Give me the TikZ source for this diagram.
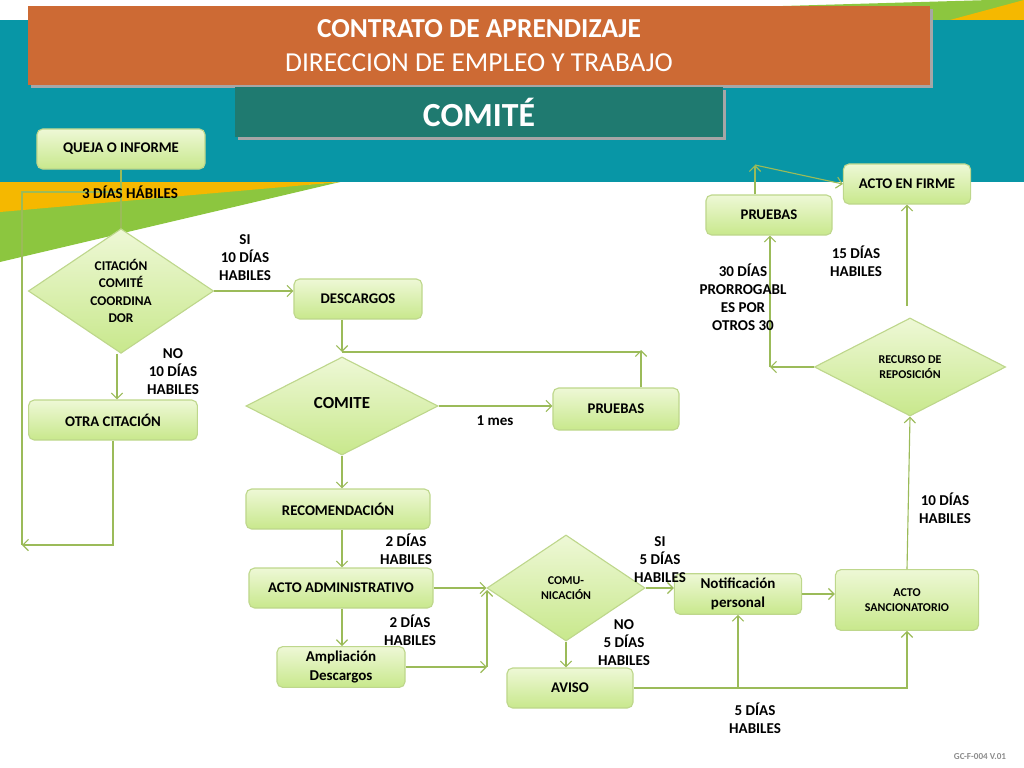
\documentclass[tikz,border=0pt]{standalone}
\usepackage{fontspec}
\setmainfont{Carlito}
\usetikzlibrary{shapes.geometric, arrows.meta}
\definecolor{teal1}{RGB}{8,150,166}
\definecolor{teal2}{RGB}{31,122,112}
\definecolor{orng}{RGB}{205,106,52}
\definecolor{yell}{RGB}{245,184,0}
\definecolor{grn}{RGB}{140,198,63}
\definecolor{boxtop}{RGB}{238,248,214}
\definecolor{boxbot}{RGB}{200,232,140}
\definecolor{edge}{RGB}{190,215,140}
\definecolor{wire}{RGB}{155,187,89}
\tikzset{
block/.style={
  draw=edge, thick,
  rectangle, rounded corners=4pt,
  top color=boxtop, bottom color=boxbot,
  minimum height=1cm,
  minimum width=3.2cm, align=center,
  font=\fontsize{10.5}{12}\selectfont\bfseries
  },
decision/.style={
  draw=edge, thick,
  diamond, inner sep=0pt,
  top color=boxtop, bottom color=boxbot,
  align=center,
  font=\fontsize{9.5}{12.3}\selectfont\bfseries
  },
tag/.style={align=center, font=\fontsize{10.7}{12.8}\selectfont\bfseries},
line/.style={->, >={Straight Barb[length=4pt,width=8pt]}, draw=wire, thick},
wire/.style={draw=wire, thick}
}
\begin{document}
\begin{tikzpicture}[x=0.025cm, y=-0.025cm]
\useasboundingbox (0,0) rectangle (1024,768);

% background
\fill[grn] (300,20) -- (990,0) -- (1024,0) -- (1024,20) -- cycle;
\fill[yell] (950,20) -- (1024,0) -- (1024,20) -- cycle;
\fill[teal1] (0,20) rectangle (1024,182);
\fill[grn] (0,208) -- (340,182) -- (0,262) -- cycle;
\fill[yell] (0,182) -- (340,182) -- (0,212) -- cycle;
\fill[black!35] (31,9) rectangle (933,88);
\fill[orng] (28,6) rectangle (930,85);
\fill[black!35] (238,90) rectangle (726,140);
\fill[teal2] (235,87) rectangle (723,137);
\node[white, font=\fontsize{19.5}{22}\selectfont\bfseries] (title) at (479,29) {CONTRATO DE APRENDIZAJE};
\node[white, font=\fontsize{19.5}{22}\selectfont] (subtitle) at (479,63) {DIRECCION DE EMPLEO Y TRABAJO};
\node[white, font=\fontsize{24}{26}\selectfont\bfseries] (comittitle) at (479,112) {COMITÉ};

% nodes
\node[block, minimum width=4.2cm]	(queja)		at (121,149)	{QUEJA O INFORME};
\node[decision, minimum width=4.63cm, minimum height=2.95cm]	(citacion)	at (121,291)	{CITACIÓN\\COMITÉ\\COORDINA\\DOR};
\node[block]	(descargos)	at (358,299)	{DESCARGOS};
\node[decision, minimum width=4.8cm, minimum height=2.45cm, font=\fontsize{12}{14}\selectfont\bfseries]	(comite)	at (342,406)	{\raisebox{4pt}{COMITE}};
\node[block, minimum width=3.15cm, minimum height=1.05cm]	(pruebasa)	at (616,409)	{PRUEBAS};
\node[block, minimum width=4.22cm]	(otra)		at (113,420)	{OTRA CITACIÓN};
\node[block, minimum width=4.6cm]	(recomend)	at (338,509)	{RECOMENDACIÓN};
\node[block, minimum width=4.6cm]	(actoadm)	at (341,588)	{ACTO ADMINISTRATIVO};
\node[block, font=\fontsize{10.7}{13}\selectfont\bfseries]	(ampliacion)	at (341,667)	{Ampliación\\Descargos};
\node[decision, minimum width=3.95cm, minimum height=2.65cm, font=\fontsize{8.5}{11}\selectfont\bfseries]	(comunic)	at (566,588)	{COMU-\\NICACIÓN};
\node[block, minimum width=3.15cm]	(aviso)		at (570,688)	{AVISO};
\node[block, minimum width=3.18cm, font=\fontsize{10.7}{13}\selectfont\bfseries]	(notif)		at (738,594)	{Notificación\\personal};
\node[block, minimum width=3.58cm, minimum height=1.52cm, font=\fontsize{8.5}{11}\selectfont\bfseries]	(sancion)	at (907,600)	{ACTO\\SANCIONATORIO};
\node[decision, minimum width=4.78cm, minimum height=2.45cm, font=\fontsize{8.5}{11}\selectfont\bfseries]	(recurso)	at (910,367)	{RECURSO DE\\REPOSICIÓN};
\node[block, minimum width=3.15cm]	(pruebasb)	at (769,215)	{PRUEBAS};
\node[block, minimum width=3.18cm]	(firme)		at (907,184)	{ACTO EN FIRME};

\coordinate (loopbot) at (22,545);
\coordinate (looptop) at (22,192);
\coordinate (merge) at (342,352);
\coordinate (pruebtop) at (641,350);
\coordinate (joinin) at (487,590);
\coordinate (tapnotif) at (738,688);
\coordinate (pbtop) at (755,165);
\coordinate (recleft) at (770,367);

% connectors
\draw[wire]	(queja.south)	--	(citacion.north);
\draw[line]	(citacion.east)	--	(descargos.west |- citacion.east);
\draw[line]	(citacion.south -| 117,0)	--	(otra.north -| 117,0);
\draw[line]	(otra.south)	|-	(loopbot);
\draw[wire]	(loopbot)	--	(looptop)	--	(queja.south |- looptop);
\draw[line]	(descargos.south -| merge)	--	(merge);
\draw[wire]	(merge)	--	(merge -| pruebtop);
\draw[line]	(pruebasa.north -| pruebtop)	--	(pruebtop);
\draw[line]	(comite.east)	--	(pruebasa.west |- comite.east);
\draw[line]	(comite.south)	--	(recomend.north -| comite.south);
\draw[line]	(recomend.south -| 342,0)	--	(actoadm.north -| 342,0);
\draw[line]	(actoadm.south -| 342,0)	--	(ampliacion.north -| 342,0);
\draw[line]	(actoadm.east)	--	(comunic.west);
\draw[line]	(ampliacion.east)	--	(ampliacion.east -| joinin);
\draw[line]	(ampliacion.east -| joinin)	--	(joinin);
\draw[line]	(comunic.east)	--	(notif.west |- comunic.east);
\draw[line]	(comunic.south)	--	(aviso.north -| comunic.south);
\draw[line]	(aviso.east)	-|	(sancion.south);
\draw[line]	(tapnotif)	--	(notif.south);
\draw[line]	(notif.east)	--	(sancion.west |- notif.east);
\draw[line]	(sancion.north)	--	(recurso.south);
\draw[line]	(firme.south |- 0,306)	--	(firme.south);
\draw[line]	(recurso.west)	--	(recleft);
\draw[line]	(recleft)	--	(pruebasb.south -| recleft);
\draw[line]	(pruebasb.north -| pbtop)	--	(pbtop);
\draw[line]	(pbtop)	--	(firme.west);

% labels
\node[tag]	(t3dias)	at (130,192)	{3 DÍAS HÁBILES};
\node[tag]	(tsi)		at (245,258)	{SI\\10 DÍAS\\HABILES};
\node[tag]	(tno)		at (173,372)	{NO\\10 DÍAS\\HABILES};
\node[tag]	(tmes)		at (495,421)	{1 mes};
\node[tag]	(t2a)		at (406,549)	{2 DÍAS\\HABILES};
\node[tag]	(t2b)		at (410,630)	{2 DÍAS\\HABILES};
\node[tag]	(tsi5)		at (660,560)	{SI\\5 DÍAS\\HABILES};
\node[tag]	(tno5)		at (624,643)	{NO\\5 DÍAS\\HABILES};
\node[tag]	(t5)		at (755,718)	{5 DÍAS\\HABILES};
\node[tag]	(t10)		at (945,508)	{10 DÍAS\\HABILES};
\node[tag]	(t15)		at (856,261)	{15 DÍAS\\HABILES};
\node[tag]	(t30)		at (743,297)	{30 DÍAS\\PRORROGABL\\ES POR\\OTROS 30};
\node[black!45, font=\fontsize{6.5}{7}\selectfont\bfseries]	(code)	at (980,757)	{GC-F-004 V.01};
\end{tikzpicture}
\end{document}
